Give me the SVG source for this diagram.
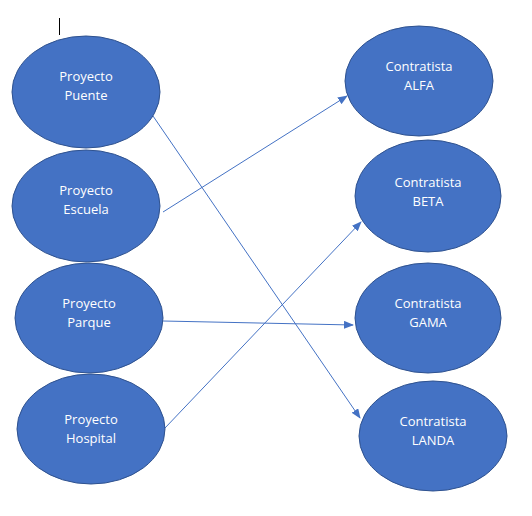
<svg xmlns="http://www.w3.org/2000/svg" width="532" height="516" viewBox="0 0 532 516">
<style>
.node ellipse{fill:#4472C4;stroke:#2F528F;stroke-width:1}
.node text{fill:#FFFFFF;font-family:"Open Sans","Liberation Sans",sans-serif;font-size:13px;text-anchor:middle}
.edge{stroke:#4472C4;stroke-width:1;fill:none;marker-end:url(#ah)}
</style>
<defs>
<marker id="ah" markerWidth="10" markerHeight="8" refX="9" refY="4" orient="auto" markerUnits="userSpaceOnUse">
<path d="M0,0 L10,4 L0,8 Z" fill="#4472C4"/>
</marker>
</defs>
<rect width="532" height="516" fill="#FFFFFF"/>
<line x1="59.5" y1="18" x2="59.5" y2="35" stroke="#000000" stroke-width="1"/>
<g id="connectors">
<line class="edge" x1="153" y1="116" x2="360" y2="418"/>
<line class="edge" x1="163" y1="212" x2="347" y2="96"/>
<line class="edge" x1="163" y1="321" x2="353" y2="325"/>
<line class="edge" x1="165" y1="428" x2="361" y2="222"/>
</g>
<g id="proyecto-puente" class="node"><ellipse cx="86" cy="92" rx="74" ry="56"/><text x="86" y="81">Proyecto</text><text x="86" y="100">Puente</text></g>
<g id="proyecto-escuela" class="node"><ellipse cx="86" cy="206" rx="74" ry="56"/><text x="86" y="195">Proyecto</text><text x="86" y="214">Escuela</text></g>
<g id="proyecto-parque" class="node"><ellipse cx="89" cy="318" rx="74" ry="55"/><text x="89" y="308">Proyecto</text><text x="89" y="327">Parque</text></g>
<g id="proyecto-hospital" class="node"><ellipse cx="91" cy="429" rx="74" ry="55"/><text x="91" y="424">Proyecto</text><text x="91" y="443">Hospital</text></g>
<g id="contratista-alfa" class="node"><ellipse cx="419" cy="81" rx="74" ry="55"/><text x="419" y="71">Contratista</text><text x="419" y="90">ALFA</text></g>
<g id="contratista-beta" class="node"><ellipse cx="428" cy="196" rx="73" ry="56"/><text x="428" y="187">Contratista</text><text x="428" y="206">BETA</text></g>
<g id="contratista-gama" class="node"><ellipse cx="428" cy="318" rx="73" ry="55"/><text x="428" y="308">Contratista</text><text x="428" y="327">GAMA</text></g>
<g id="contratista-landa" class="node"><ellipse cx="433" cy="436" rx="74" ry="55"/><text x="433" y="426">Contratista</text><text x="433" y="445">LANDA</text></g>
</svg>
